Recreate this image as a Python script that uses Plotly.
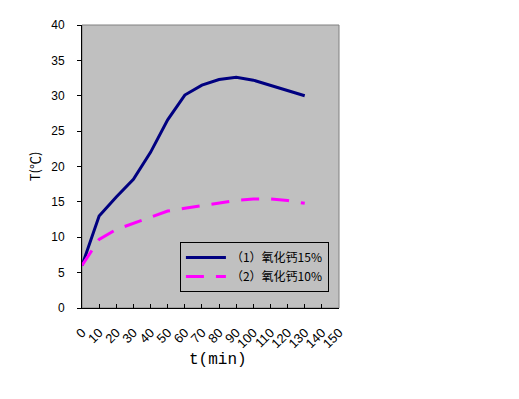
import plotly.graph_objects as go

categories = [0, 10, 20, 30, 40, 50, 60, 70, 80, 90, 100, 110, 120, 130]
series1_name = "（1）氧化钙15%"
series1 = [6.0, 13.0, 15.7, 18.2, 22.0, 26.6, 30.1, 31.5, 32.3, 32.6, 32.2, 31.5, 30.8, 30.0]
series2_name = "（2）氧化钙10%"
series2 = [6.0, 9.7, 11.1, 12.0, 12.9, 13.7, 14.1, 14.5, 14.85, 15.2, 15.4, 15.4, 15.2, 14.8]
x_ticks = [0, 10, 20, 30, 40, 50, 60, 70, 80, 90, 100, 110, 120, 130, 140, 150]
y_ticks = [0, 5, 10, 15, 20, 25, 30, 35, 40]

CJK = "Noto Sans CJK SC"

fig = go.Figure()
fig.add_trace(go.Scatter(x=categories, y=series1, mode="lines", name=series1_name,
                         line=dict(color="#000080", width=3)))
fig.add_trace(go.Scatter(x=categories, y=series2, mode="lines", name=series2_name,
                         line=dict(color="#FF00FF", width=3, dash="18px,12px")))

fig.update_layout(
    width=511, height=391,
    margin=dict(l=74, r=180, t=17, b=91),
    paper_bgcolor="white",
    plot_bgcolor="#C0C0C0",
    font=dict(family=CJK, size=12, color="black"),
    showlegend=True,
    legend=dict(x=0.381, y=0.233, xanchor="left", yanchor="top",
                bgcolor="#C0C0C0", bordercolor="black", borderwidth=1,
                font=dict(family=CJK, size=12), tracegroupgap=0,
                itemwidth=40),
    shapes=[dict(type="rect", xref="paper", yref="paper", x0=0, y0=0, x1=1, y1=1,
                 line=dict(color="#808080", width=1), layer="below")],
    annotations=[dict(text="t(min)", xref="paper", yref="paper", x=0.529, y=-0.184,
                      xanchor="center", yanchor="middle", showarrow=False,
                      font=dict(family="Liberation Mono", size=16))],
)
fig.update_xaxes(range=[0, 150], tickvals=x_ticks, ticktext=[str(v) for v in x_ticks],
                 tickangle=-45, showgrid=False, zeroline=False, automargin=False,
                 showline=True, linecolor="black", linewidth=1,
                 ticks="inside", ticklen=4, tickcolor="black",
                 ticklabelstandoff=11,
                 tickfont=dict(family="Liberation Sans", size=13))
fig.update_yaxes(range=[0, 40], tickvals=y_ticks, showgrid=False, zeroline=False, automargin=False,
                 showline=True, linecolor="black", linewidth=1,
                 ticks="outside", ticklen=4, tickcolor="black",
                 ticklabelstandoff=10,
                 tickfont=dict(family="Liberation Sans", size=12),
                 title=dict(text="T(℃)", font=dict(family=CJK, size=13), standoff=7))

fig.write_html("out.html")
